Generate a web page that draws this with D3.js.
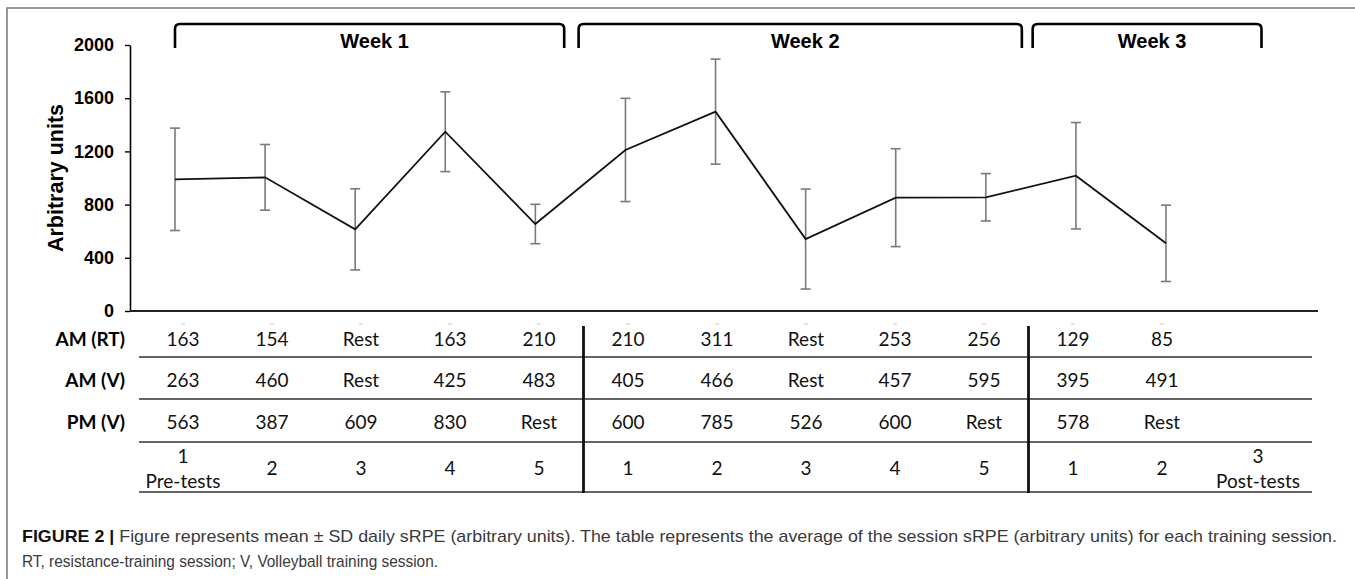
<!DOCTYPE html>
<html>
<head>
<meta charset="utf-8">
<script src="https://cdn.jsdelivr.net/npm/d3@7"></script>
<style>
  html, body { margin: 0; padding: 0; background: #fff; }
  svg { display: block; }
</style>
</head>
<body>
<svg id="chart" width="1355" height="579"></svg>
<script>
// ---------------- DATA ----------------
const dayLabels = [["1", "Pre-tests"], ["2"], ["3"], ["4"], ["5"], ["1"], ["2"], ["3"], ["4"], ["5"], ["1"], ["2"], ["3", "Post-tests"]];
const meanSRPE = [990, 1005, 614, 1348, 654, 1211, 1499, 541, 852, 855, 1017, 509];
const sdSRPE   = [385, 247, 305, 300, 148, 388, 395, 376, 368, 178, 400, 287];
const rowLabels = ["AM (RT)", "AM (V)", "PM (V)"];
const amRT = ["163", "154", "Rest", "163", "210", "210", "311", "Rest", "253", "256", "129", "85", ""];
const amV  = ["263", "460", "Rest", "425", "483", "405", "466", "Rest", "457", "595", "395", "491", ""];
const pmV  = ["563", "387", "609", "830", "Rest", "600", "785", "526", "600", "Rest", "578", "Rest", ""];
const yTicks = [0, 400, 800, 1200, 1600, 2000];
const weekLabels = ["Week 1", "Week 2", "Week 3"];
const weekStart = [0, 4.48, 9.52];     // bracket extents in day-index units
const weekEnd   = [4.32, 9.40, 12.06];
const weekDividers = [4.5, 9.5];       // table dividers between weeks
const yTitle = "Arbitrary units";
const captionBold = "FIGURE 2 |";
const captionLine1 = " Figure represents mean ± SD daily sRPE (arbitrary units). The table represents the average of the session sRPE (arbitrary units) for each training session.";
const captionLine2 = "RT, resistance-training session; V, Volleyball training session.";

// ---------------- LAYOUT ----------------
const svg = d3.select("#chart");
const axisFont = "'Liberation Sans', Arial, sans-serif";
const tableFont = "Lato, 'Open Sans', sans-serif";

// frame
svg.append("path")
  .attr("d", "M7,579 L7,8 L1355,8")
  .attr("fill", "none").attr("stroke", "#777").attr("stroke-width", 1.5);

const y = d3.scaleLinear().domain([0, 2000]).range([311, 45]);
const idx = d3.range(dayLabels.length);
const xChart = d3.scaleLinear().domain([0, 11]).range([175, 1166]);
const xTable = d3.scaleLinear().domain([0, 11]).range([183, 1162]);

// y axis
const yAxis = svg.append("g")
  .attr("transform", "translate(130,0)")
  .call(d3.axisLeft(y).tickValues(yTicks).tickSize(5).tickSizeOuter(0).tickPadding(11).tickFormat(d3.format("d")));
yAxis.select(".domain").attr("stroke", "#000").attr("stroke-width", 1.6);
yAxis.selectAll(".tick line").attr("stroke", "#000").attr("stroke-width", 1.4);
yAxis.selectAll(".tick text")
  .attr("font-family", axisFont).attr("font-weight", "bold").attr("font-size", 18).attr("fill", "#000");

// x axis line (top of the table)
svg.append("line")
  .attr("x1", 130).attr("x2", 1318).attr("y1", y(0)).attr("y2", y(0))
  .attr("stroke", "#222").attr("stroke-width", 1.8);

// y title
svg.append("text")
  .attr("transform", `translate(63,${(y(0) + y(2000)) / 2 + 0}) rotate(-90)`)
  .attr("text-anchor", "middle")
  .attr("font-family", axisFont).attr("font-weight", "bold").attr("font-size", 21.5)
  .text(yTitle);

// week brackets
const bTop = 24, bBot = 48, r = 5;
weekLabels.forEach((lab, i) => {
  const x0 = xChart(weekStart[i]), x1 = xChart(weekEnd[i]);
  svg.append("path")
    .attr("d", `M${x0},${bBot} L${x0},${bTop + r} Q${x0},${bTop} ${x0 + r},${bTop} L${x1 - r},${bTop} Q${x1},${bTop} ${x1},${bTop + r} L${x1},${bBot}`)
    .attr("fill", "none").attr("stroke", "#000").attr("stroke-width", 2.6);
  svg.append("text")
    .attr("x", (x0 + x1) / 2 + 5).attr("y", 48)
    .attr("text-anchor", "middle")
    .attr("font-family", axisFont).attr("font-weight", "bold").attr("font-size", 20)
    .text(lab);
});

// error bars
const eb = svg.append("g");
meanSRPE.forEach((m, i) => {
  const cx = xChart(i), hi = y(m + sdSRPE[i]), lo = y(m - sdSRPE[i]);
  eb.append("line").attr("x1", cx).attr("x2", cx).attr("y1", hi).attr("y2", lo);
  eb.append("line").attr("x1", cx - 5).attr("x2", cx + 5).attr("y1", hi).attr("y2", hi);
  eb.append("line").attr("x1", cx - 5).attr("x2", cx + 5).attr("y1", lo).attr("y2", lo);
});
eb.selectAll("line").attr("stroke", "#7a7a7a").attr("stroke-width", 1.6);

// mean line
svg.append("path")
  .datum(meanSRPE)
  .attr("d", d3.line().x((d, i) => xChart(i)).y(d => y(d)))
  .attr("fill", "none").attr("stroke", "#111").attr("stroke-width", 1.8);

// ---------------- TABLE ----------------
const rowY = [339, 380, 422];
const lineY = [357, 399, 442, 492];
const tbl = svg.append("g");

// faint x tick marks
idx.slice(0, 12).forEach(i => {
  tbl.append("line").attr("x1", xTable(i) - 2).attr("x2", xTable(i) + 2)
    .attr("y1", 324).attr("y2", 324).attr("stroke", "#ccc").attr("stroke-width", 1);
});

lineY.forEach(ly => {
  tbl.append("line").attr("x1", 139).attr("x2", 1312).attr("y1", ly).attr("y2", ly)
    .attr("stroke", "#333").attr("stroke-width", 1.5);
});
weekDividers.forEach(d => {
  tbl.append("line").attr("x1", xTable(d)).attr("x2", xTable(d)).attr("y1", 326).attr("y2", 493)
    .attr("stroke", "#111").attr("stroke-width", 2.8);
});

rowLabels.forEach((lab, j) => {
  tbl.append("text").attr("x", 125).attr("y", rowY[j]).attr("dy", "0.35em")
    .attr("text-anchor", "end").attr("font-family", tableFont).attr("font-weight", "bold")
    .attr("font-size", 19).text(lab);
});
[amRT, amV, pmV].forEach((row, j) => {
  row.forEach((v, i) => {
    if (!v) return;
    tbl.append("text").attr("x", xTable(i)).attr("y", rowY[j]).attr("dy", "0.35em")
      .attr("text-anchor", "middle").attr("font-family", tableFont).attr("font-size", 19)
      .attr("fill", "#111").text(v);
  });
});
dayLabels.forEach((lines, i) => {
  const cx = i === 12 ? xTable(i) + 7 : xTable(i);
  if (lines.length === 1) {
    tbl.append("text").attr("x", cx).attr("y", 468).attr("dy", "0.35em")
      .attr("text-anchor", "middle").attr("font-family", tableFont).attr("font-size", 19)
      .attr("fill", "#111").text(lines[0]);
  } else {
    lines.forEach((t, k) => {
      tbl.append("text").attr("x", cx).attr("y", 456 + k * 25).attr("dy", "0.35em")
        .attr("text-anchor", "middle").attr("font-family", tableFont).attr("font-size", 19)
        .attr("fill", "#111").text(t);
    });
  }
});

// ---------------- CAPTION ----------------
const cap1 = svg.append("text").attr("x", 22).attr("y", 542)
  .attr("font-family", axisFont).attr("font-size", 17).attr("fill", "#3a3a3a")
  .attr("textLength", 1315).attr("lengthAdjust", "spacingAndGlyphs");
cap1.append("tspan").attr("font-weight", "bold").attr("fill", "#111").text(captionBold);
cap1.append("tspan").text(captionLine1);
svg.append("text").attr("x", 22).attr("y", 567)
  .attr("font-family", axisFont).attr("font-size", 17).attr("fill", "#3a3a3a")
  .attr("textLength", 416).attr("lengthAdjust", "spacingAndGlyphs")
  .text(captionLine2);
</script>
</body>
</html>
